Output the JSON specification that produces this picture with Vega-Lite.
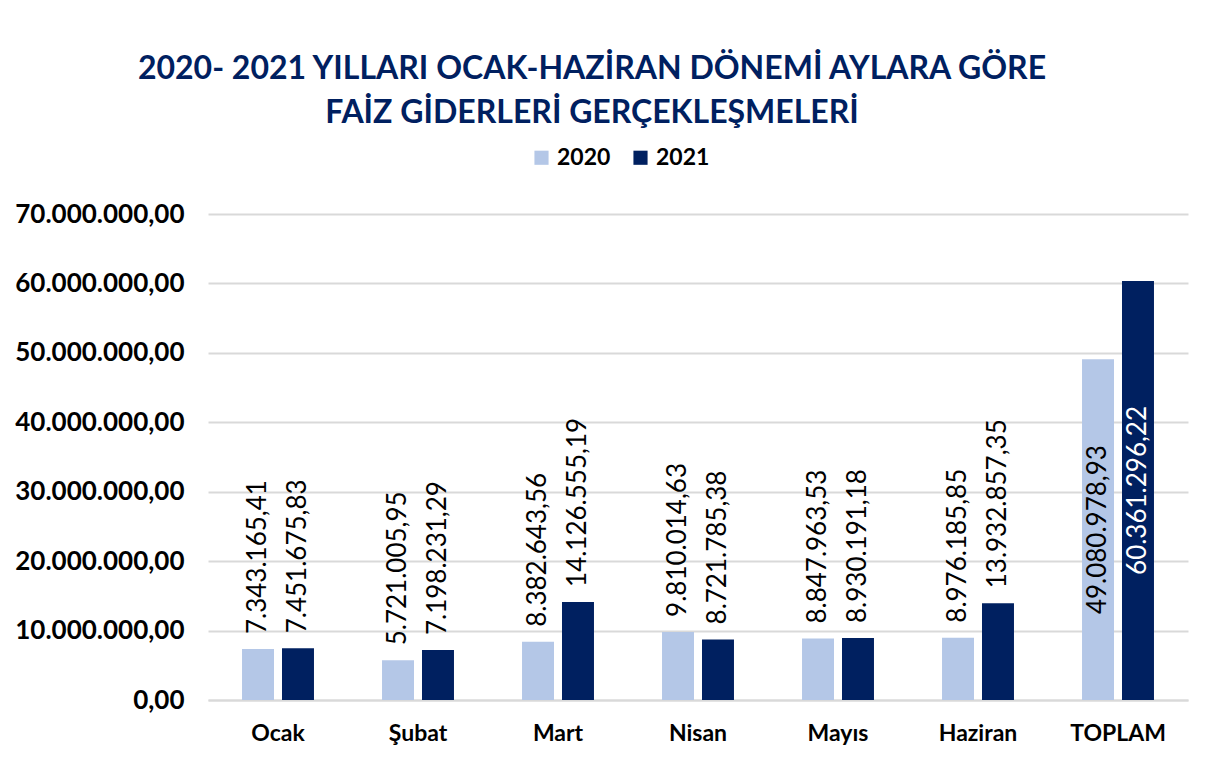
{
  "$schema": "https://vega.github.io/schema/vega-lite/v6.json",
  "width": 980,
  "height": 486,
  "autosize": {"type": "none"},
  "padding": {"left": 208, "top": 214, "right": 31, "bottom": 64},
  "background": "white",
  "title": {
    "text": ["2020- 2021 YILLARI OCAK-HAZİRAN DÖNEMİ AYLARA GÖRE", "FAİZ GİDERLERİ GERÇEKLEŞMELERİ"],
    "anchor": "middle",
    "frame": "group",
    "dx": -106,
    "offset": 16,
    "font": "Lato",
    "fontSize": 32,
    "fontWeight": "bold",
    "color": "#002060",
    "lineHeight": 44
  },
  "data": {
    "values": [
      {"month": "Ocak", "year": "2020", "value": 7343165.41},
      {"month": "Ocak", "year": "2021", "value": 7451675.83},
      {"month": "Şubat", "year": "2020", "value": 5721005.95},
      {"month": "Şubat", "year": "2021", "value": 7198231.29},
      {"month": "Mart", "year": "2020", "value": 8382643.56},
      {"month": "Mart", "year": "2021", "value": 14126555.19},
      {"month": "Nisan", "year": "2020", "value": 9810014.63},
      {"month": "Nisan", "year": "2021", "value": 8721785.38},
      {"month": "Mayıs", "year": "2020", "value": 8847963.53},
      {"month": "Mayıs", "year": "2021", "value": 8930191.18},
      {"month": "Haziran", "year": "2020", "value": 8976185.85},
      {"month": "Haziran", "year": "2021", "value": 13932857.35},
      {"month": "TOPLAM", "year": "2020", "value": 49080978.93},
      {"month": "TOPLAM", "year": "2021", "value": 60361296.22}
    ]
  },
  "encoding": {
    "x": {
      "field": "month",
      "type": "nominal",
      "sort": ["Ocak", "Şubat", "Mart", "Nisan", "Mayıs", "Haziran", "TOPLAM"],
      "scale": {"paddingInner": 0.486, "paddingOuter": 0.243},
      "axis": {
        "title": null,
        "labelAngle": 0,
        "labelFont": "Lato",
        "labelFontSize": 23,
        "labelFontWeight": "bold",
        "labelColor": "#000000",
        "labelPadding": 22,
        "ticks": false,
        "domainColor": "#d9d9d9",
        "domainWidth": 2
      }
    },
    "xOffset": {
      "field": "year",
      "type": "nominal",
      "scale": {"paddingInner": 0.2, "paddingOuter": 0}
    }
  },
  "layer": [
    {
      "mark": {"type": "bar"},
      "encoding": {
        "y": {
          "field": "value",
          "type": "quantitative",
          "scale": {"domain": [0, 70000000]},
          "axis": {
            "title": null,
            "values": [0, 10000000, 20000000, 30000000, 40000000, 50000000, 60000000, 70000000],
            "format": ",.2f",
            "labelFont": "Lato",
            "labelFontSize": 26,
            "labelFontWeight": "bold",
            "labelColor": "#000000",
            "labelPadding": 24,
            "ticks": false,
            "domain": false,
            "gridColor": "#d9d9d9",
            "gridWidth": 2
          }
        },
        "color": {
          "field": "year",
          "type": "nominal",
          "scale": {"domain": ["2020", "2021"], "range": ["#b4c7e7", "#002060"]},
          "legend": {
            "title": null,
            "orient": "none",
            "direction": "horizontal",
            "legendX": 322,
            "legendY": -68,
            "symbolType": "square",
            "symbolSize": 200,
            "symbolStrokeWidth": 0,
            "labelFont": "Lato",
            "labelFontSize": 23,
            "labelFontWeight": "bold",
            "labelColor": "#000000",
            "columnPadding": 18
          }
        }
      }
    },
    {
      "transform": [{"filter": "datum.month != 'TOPLAM'"}],
      "mark": {"type": "text", "angle": 270, "align": "left", "baseline": "middle", "dx": 15, "font": "Lato", "fontSize": 26, "fontWeight": "normal", "color": "#000000"},
      "encoding": {
        "y": {"field": "value", "type": "quantitative", "scale": {"domain": [0, 70000000]}, "axis": null},
        "text": {"field": "value", "type": "quantitative", "format": ",.2f"}
      }
    },
    {
      "transform": [{"filter": "datum.month == 'TOPLAM'"}],
      "mark": {"type": "text", "angle": 270, "align": "center", "baseline": "middle", "font": "Lato", "fontSize": 26, "fontWeight": "normal"},
      "encoding": {
        "y": {"field": "value", "type": "quantitative", "scale": {"domain": [0, 140000000]}, "axis": null},
        "text": {"field": "value", "type": "quantitative", "format": ",.2f"},
        "color": {"condition": {"test": "datum.year == '2021'", "value": "#ffffff"}, "value": "#000000"}
      }
    }
  ],
  "resolve": {"scale": {"y": "independent"}},
  "config": {
    "locale": {"number": {"decimal": ",", "thousands": ".", "grouping": [3], "currency": ["", ""]}},
    "view": {"stroke": null},
    "font": "Lato"
  }
}
